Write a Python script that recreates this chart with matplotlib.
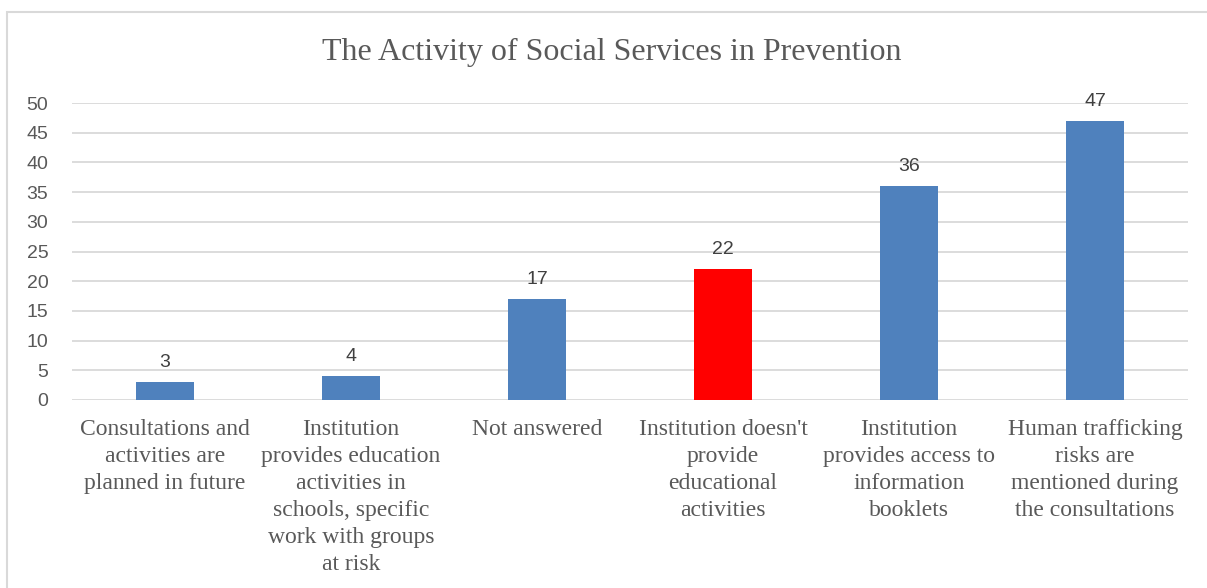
import matplotlib.pyplot as plt
from matplotlib.patches import Rectangle

# Data
categories = [
    "Consultations and\nactivities are\nplanned in future",
    "Institution\nprovides education\nactivities in\nschools, specific\nwork with groups\nat risk",
    "Not answered",
    "Institution doesn't\nprovide\neducational\nactivities",
    "Institution\nprovides access to\ninformation\nbooklets",
    "Human trafficking\nrisks are\nmentioned during\nthe consultations",
]
values = [3, 4, 17, 22, 36, 47]
bar_colors = ["#4f81bd", "#4f81bd", "#4f81bd", "#ff0000", "#4f81bd", "#4f81bd"]
yticks = [0, 5, 10, 15, 20, 25, 30, 35, 40, 45, 50]

text_gray = "#595959"
grid_gray = "#d9d9d9"
serif = ["Liberation Serif", "DejaVu Serif"]
sans = ["Liberation Sans", "DejaVu Sans"]

fig = plt.figure(figsize=(12.07, 5.88), dpi=100)
ax = fig.add_axes([72 / 1207, 1 - 400 / 588, 1116 / 1207, 297 / 588])

# outer chart border (right/bottom edges are cut off in the source)
fig.patches.append(Rectangle((7 / 1207, -0.2), 1.2, 1.2 - 12 / 588,
                             transform=fig.transFigure, fill=False,
                             edgecolor=grid_gray, linewidth=1.5))

x = list(range(len(categories)))
bars = ax.bar(x, values, width=0.31, color=bar_colors, zorder=3)

for xi, v in zip(x, values):
    ax.annotate(str(v), (xi, v), xytext=(0, 8), textcoords="offset points",
                ha="center", va="bottom", fontsize=14, color="#404040",
                family=sans)

ax.set_xlim(-0.5, len(categories) - 0.5)
ax.set_ylim(0, 50)
ax.set_yticks(yticks)
ax.set_yticklabels([str(t) for t in yticks], fontsize=14, color=text_gray,
                   family=sans)
ax.set_xticks(x)
ax.set_xticklabels(categories, fontsize=17, color=text_gray, family=serif,
                   linespacing=1.37, va="top")
ax.tick_params(axis="both", length=0)
ax.tick_params(axis="y", pad=17)
ax.tick_params(axis="x", pad=14)

ax.grid(axis="y", color=grid_gray, linewidth=1.3, zorder=0)
for s in ax.spines.values():
    s.set_visible(False)

fig.text(612 / 1207, 1 - 52 / 588, "The Activity of Social Services in Prevention",
         ha="center", va="center", fontsize=23, color=text_gray, family=serif)

fig.savefig("out.png", dpi=100)
